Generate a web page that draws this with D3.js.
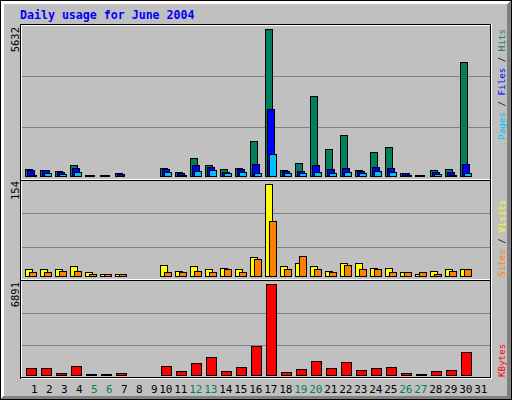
<!DOCTYPE html>
<html><head><meta charset="utf-8">
<script src="https://cdn.jsdelivr.net/npm/d3@7"></script>
<style>html,body{margin:0;padding:0;background:#fff}svg{display:block}</style>
</head><body>
<script>
const title = "Daily usage for June 2004";
const days = [1,2,3,4,5,6,7,8,9,10,11,12,13,14,15,16,17,18,19,20,21,22,23,24,25,26,27,28,29,30,31];
const weekend = [5,6,12,13,19,20,26,27];
const hits   = [283,245,206,409,30,30,100,0,0,321,141,703,409,283,321,1352,5632,245,512,3072,1047,1582,245,932,1123,130,30,245,283,4371,0];
const files  = [218,218,141,321,20,20,65,0,0,267,115,436,359,168,256,474,2575,180,206,436,283,321,206,359,321,100,20,168,168,474,0];
const pages  = [50,100,65,141,10,10,15,0,0,141,45,206,245,100,141,115,856,100,100,141,100,141,100,206,168,50,10,90,50,100,0];
const visits = [12,12,11,16,6,4,4,0,0,19,9,17,11,14,11,31,154,16,22,17,9,22,22,14,14,7,4,9,12,11,0];
const sites  = [7,6,9,9,4,4,4,0,0,7,6,9,6,11,7,29,92,11,34,12,6,19,11,11,7,6,6,4,9,11,0];
const kbytes = [500,500,175,650,60,60,175,0,0,650,275,925,1377,325,575,2203,6891,250,475,1076,550,1001,400,550,625,175,60,325,400,1752,0];
const maxLabels = ["5632","154","6891"];

const C = {hits:"#00805c", files:"#0000ff", pages:"#00c0ff", sites:"#ff8000", visits:"#ffff00", kbytes:"#ff0000",
  bg:"#c0c0c0", dk:"#808080", title:"#0000ff"};

const W=512,H=400;
const svg = d3.select("body").append("svg").attr("width",W).attr("height",H)
  .attr("shape-rendering","crispEdges");
svg.append("rect").attr("width",W).attr("height",H).attr("fill",C.bg);

function hline(y,x1,x2,c){svg.append("line").attr("x1",x1).attr("x2",x2+1).attr("y1",y+0.5).attr("y2",y+0.5).attr("stroke",c);}
function vline(x,y1,y2,c){svg.append("line").attr("x1",x+0.5).attr("x2",x+0.5).attr("y1",y1).attr("y2",y2+1).attr("stroke",c);}

// outer bevel
for(let i=1;i<=3;i++){ hline(i,1,W-2,"#ffffff"); vline(i,1,H-2,"#ffffff"); }
for(let i=0;i<4;i++){ vline(W-2-i,1+i,H-2,C.dk); }
for(let i=0;i<3;i++){ hline(H-2-i,1+i,W-2,C.dk); }
svg.append("rect").attr("x",0.5).attr("y",0.5).attr("width",W-1).attr("height",H-1).attr("fill","none").attr("stroke","#000");

// title
svg.append("text").attr("x",20).attr("y",19).text(title)
  .attr("font-family","'DejaVu Sans Mono', monospace").attr("font-weight","bold").attr("font-size","11.6px")
  .attr("fill",C.title);

// panels
const panels = [{top:25,bottom:178,base:176,peak:29},{top:180,bottom:280,base:276,peak:184},{top:280,bottom:378,base:375,peak:284}];
const x = d3.scaleLinear().domain([1,31]).range([25,475]);

// grid lines
panels.forEach(p=>{
  [1,2].forEach(k=>{ hline(Math.round(p.top+(p.bottom-p.top)*k/3),21,489,C.dk); });
});

// inner frame
hline(24,20,490,"#000"); hline(25,21,489,"#fff");
vline(20,24,378,"#000"); vline(21,25,377,"#fff");
vline(490,24,377,"#000"); vline(491,24,378,"#fff");
hline(377,20,490,"#000"); hline(378,21,491,"#fff");
hline(179,21,489,"#fff"); hline(180,21,489,"#000");
hline(279,21,489,"#fff"); hline(280,21,489,"#000");

function bars(p, max, vals, color, dx, w){
  const y = d3.scaleLinear().domain([0,max]).range([p.base,p.peak]);
  svg.append("g").selectAll("rect").data(days.filter((d,i)=>vals[i]>0)).join("rect")
    .attr("x",d=>x(d)+dx+0.5)
    .attr("y",d=>Math.round(y(vals[d-1]))+0.5)
    .attr("width",w)
    .attr("height",d=>p.base-Math.round(y(vals[d-1])))
    .attr("fill",color).attr("stroke","#000");
}
const m1 = d3.max(hits), m2 = d3.max(visits), m3 = d3.max(kbytes);
bars(panels[0], m1, hits, C.hits, 0, 7);
bars(panels[0], m1, files, C.files, 2, 7);
bars(panels[0], m1, pages, C.pages, 4, 7);
bars(panels[1], m2, visits, C.visits, 0, 7);
bars(panels[1], m2, sites, C.sites, 4, 7);
bars(panels[2], m3, kbytes, C.kbytes, 1, 10);

// day labels
svg.append("g").selectAll("text").data(days).join("text")
  .attr("x",d=>x(d)+12.5).attr("y",393).attr("text-anchor","end")
  .attr("font-family","'DejaVu Sans Mono', monospace").attr("font-size","11px")
  .attr("fill",d=>weekend.includes(d)?C.hits:"#000").text(d=>d);

// max labels
const maxTops=[27,181,282];
maxLabels.forEach((t,i)=>{
  svg.append("text").attr("transform",`translate(19,${maxTops[i]}) rotate(-90)`)
    .attr("text-anchor","end").attr("font-family","'DejaVu Sans Mono', monospace").attr("font-size","10.5px")
    .attr("fill","#000").text(t);
});

// right legends
function legend(parts, y, anchor){
  const t = svg.append("text").attr("transform",`translate(505,${y}) rotate(-90)`)
    .attr("text-anchor",anchor).attr("font-family","'DejaVu Sans Mono', monospace").attr("font-size","9.2px");
  parts.forEach(([s,c])=>t.append("tspan").attr("fill",c).text(s));
}
legend([["Pages",C.pages],[" / ","#000"],["Files",C.files],[" / ","#000"],["Hits",C.hits]], 29, "end");
legend([["Sites",C.sites],[" / ","#000"],["Visits",C.visits]], 277, "start");
legend([["KBytes",C.kbytes]], 377, "start");
</script>
</body></html>
